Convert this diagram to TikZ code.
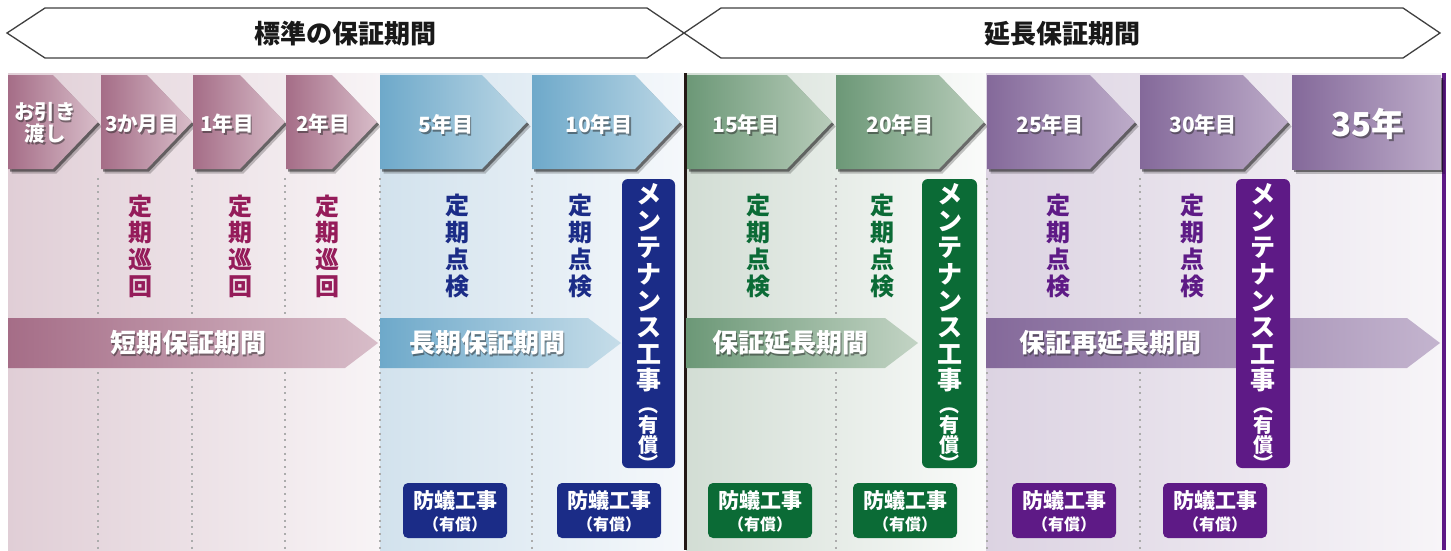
\documentclass[tikz,border=0pt]{standalone}
\usepackage{fontspec}
\newfontfamily\jp{Noto Sans CJK JP}
\usetikzlibrary{shadows,calc}
\definecolor{pinkD}{HTML}{A56D87}
\definecolor{pinkL}{HTML}{D8BDC9}
\definecolor{blueD}{HTML}{6EA9CA}
\definecolor{blueL}{HTML}{BCD7E5}
\definecolor{greenD}{HTML}{6C9877}
\definecolor{greenL}{HTML}{B8CCBA}
\definecolor{purD}{HTML}{84699A}
\definecolor{purL}{HTML}{BDACC9}
\definecolor{zpinkL}{HTML}{E0CED6}
\definecolor{zpinkR}{HTML}{F8F4F6}
\definecolor{zblueL}{HTML}{D2E2ED}
\definecolor{zblueR}{HTML}{F5F8FB}
\definecolor{zgreenL}{HTML}{D2DDD4}
\definecolor{zgreenR}{HTML}{FAFBFA}
\definecolor{zpurL}{HTML}{DCD3E2}
\definecolor{zpurR}{HTML}{F7F5F8}
\definecolor{maroon}{HTML}{951C5A}
\definecolor{navy}{HTML}{1B2C87}
\definecolor{dgreen}{HTML}{0B6B36}
\definecolor{dpurple}{HTML}{5E1A86}
\definecolor{linek}{HTML}{231815}
\tikzset{
  hdr/.style={draw=black!75, line width=1.3pt, fill=white},
  hdrtext/.style={font=\jp\bfseries\fontsize{26pt}{28pt}\selectfont, text=black!90, inner sep=0pt},
  dotline/.style={draw=gray!65, line width=2pt, dash pattern=on 2pt off 4.7pt},
  chevshadow/.style={drop shadow={shadow xshift=3.5pt, shadow yshift=-4.5pt, opacity=0.22, fill=black},
                     drop shadow={shadow xshift=2pt, shadow yshift=-2.5pt, opacity=0.45, fill=black}},
  vt/.style={font=\jp\bfseries\fontsize{24pt}{26.7pt}\selectfont, align=center, inner sep=0pt},
  mbox/.style={rounded corners=6pt},
  mtext/.style={font=\jp\bfseries\fontsize{25pt}{26.6pt}\selectfont, align=center, inner sep=0pt, text=white},
  msmall/.style={font=\jp\bfseries\fontsize{20pt}{18.5pt}\selectfont, align=center, inner sep=0pt, text=white},
  abox/.style={rounded corners=5pt},
  atext/.style={font=\jp\bfseries\fontsize{21pt}{22pt}\selectfont, inner sep=0pt, text=white},
  asmall/.style={font=\jp\bfseries\fontsize{16pt}{16pt}\selectfont, inner sep=0pt, text=white},
}
% shadowed white label: name, position, size, text
\newcommand\shlabel[4]{%
  \node[text=black!85, opacity=0.5, inner sep=0pt, align=center,
        font=\jp\bfseries\fontsize{#3}{#3}\selectfont] at ($(#2)+(1.5,2)$) {#4};
  \node[text=white, inner sep=0pt, align=center,
        font=\jp\bfseries\fontsize{#3}{#3}\selectfont] (#1) at (#2) {#4};
}
\newcommand\chev[4]{%
  \path[chevshadow, left color=#3, right color=#4]
    (#1,75) -- ({#2-45},75) -- (#2,122) -- ({#2-45},169) -- (#1,169) -- cycle;
}
\newcommand\marrow[4]{%
  \path[left color=#3, right color=#4]
    (#1,318) -- ({#2-33},318) -- (#2,343) -- ({#2-33},368) -- (#1,368) -- cycle;
}
\begin{document}
\begin{tikzpicture}[x=1pt,y=-1pt]
\useasboundingbox (0,0) rectangle (1451,550);
\fill[white] (0,0) rectangle (1451,550);

% header
\draw[hdr] (7,33) -- (45,8) -- (647,8) -- (684,33) -- (647,58) -- (45,58) -- cycle;
\draw[hdr] (684,33) -- (721,8) -- (1403,8) -- (1440,33) -- (1403,58) -- (721,58) -- cycle;
\node[hdrtext] (h1) at (345,34) {標準の保証期間};
\node[hdrtext] (h2) at (1062,34) {延長保証期間};

% zone backgrounds
\path[left color=zpinkL, right color=zpinkR] (8,73) rectangle (380,550);
\path[left color=zblueL, right color=zblueR] (380,73) rectangle (684,550);
\path[left color=zgreenL, right color=zgreenR] (686,73) rectangle (986,550);
\path[left color=zpurL, right color=zpurR] (986,73) rectangle (1443,550);

% dotted separators
\foreach \xx in {98,192,285,380,532,836,987,1140}{
  \draw[dotline] (\xx,178) -- (\xx,550);
}
% solid separators
\draw[linek, line width=3pt] (685,73) -- (685,550);
\draw[dpurple, line width=3.5pt] (1444,73) -- (1444,550);

% top chevrons
\chev{8}{98}{pinkD}{pinkL}
\chev{101}{192}{pinkD}{pinkL}
\chev{193}{285}{pinkD}{pinkL}
\chev{286}{377}{pinkD}{pinkL}
\chev{380}{527}{blueD}{blueL}
\chev{532}{680}{blueD}{blueL}
\chev{687}{832}{greenD}{greenL}
\chev{836}{984}{greenD}{greenL}
\chev{987}{1135}{purD}{purL}
\chev{1140}{1288}{purD}{purL}
\path[chevshadow, left color=purD, right color=purL] (1292,75) rectangle (1441,169);

\shlabel{c0}{45,123}{20.5pt}{お引き\\[1pt]渡し}
\shlabel{c1}{142,124}{20.5pt}{3か月目}
\shlabel{c2}{227,124}{20.5pt}{1年目}
\shlabel{c3}{323,124}{20.5pt}{2年目}
\shlabel{c4}{446,124}{21pt}{5年目}
\shlabel{c5}{599,124}{21pt}{10年目}
\shlabel{c6}{746,124}{21pt}{15年目}
\shlabel{c7}{900,124}{21pt}{20年目}
\shlabel{c8}{1050,124}{21pt}{25年目}
\shlabel{c9}{1203,124}{21pt}{30年目}
\shlabel{c10}{1368,124}{33pt}{35年}

% periodic patrol / inspection
\node[vt, text=maroon] (p1) at (140,246) {定\\期\\巡\\回};
\node[vt, text=maroon] (p2) at (240,246) {定\\期\\巡\\回};
\node[vt, text=maroon] (p3) at (327,246) {定\\期\\巡\\回};
\node[vt, text=navy] (i1) at (457,246) {定\\期\\点\\検};
\node[vt, text=navy] (i2) at (580,246) {定\\期\\点\\検};
\node[vt, text=dgreen] (i3) at (758,246) {定\\期\\点\\検};
\node[vt, text=dgreen] (i4) at (882,246) {定\\期\\点\\検};
\node[vt, text=dpurple] (i5) at (1058,246) {定\\期\\点\\検};
\node[vt, text=dpurple] (i6) at (1192,246) {定\\期\\点\\検};

% middle arrows
\marrow{8}{378}{pinkD}{pinkL}
\marrow{380}{621}{blueD}{blueL!85!white}
\marrow{686}{918}{greenD}{greenL!85!white}
\marrow{986}{1440}{purD}{purL!90!white}
\shlabel{a1}{188,343}{26pt}{短期保証期間}
\shlabel{a2}{487,343}{26pt}{長期保証期間}
\shlabel{a3}{790,343}{26pt}{保証延長期間}
\shlabel{a4}{1110,343}{26pt}{保証再延長期間}

% maintenance boxes
\fill[mbox, navy] (622,179) rectangle (675,468);
\fill[mbox, dgreen] (922,179) rectangle (977,468);
\fill[mbox, dpurple] (1236,179) rectangle (1290,468);
\foreach \cx/\nm in {648.5/m1, 949.5/m2, 1263/m3}{
  \node[mtext] (\nm) at (\cx,288) {メ\\ン\\テ\\ナ\\ン\\ス\\工\\事};
  \node[msmall] (\nm s) at (\cx,440) {︵\\有\\償\\︶};
}

% termite boxes
\foreach \lx/\col/\nm in {403/navy/t1, 557/navy/t2, 708/dgreen/t3, 853/dgreen/t4, 1012/dpurple/t5, 1163/dpurple/t6}{
  \fill[abox, \col] (\lx,483) rectangle ++(104,55);
  \node[atext] (\nm) at (\lx+52,501) {防蟻工事};
  \node[asmall] (\nm s) at (\lx+52,524) {（有償）};
}
\end{tikzpicture}
\end{document}
